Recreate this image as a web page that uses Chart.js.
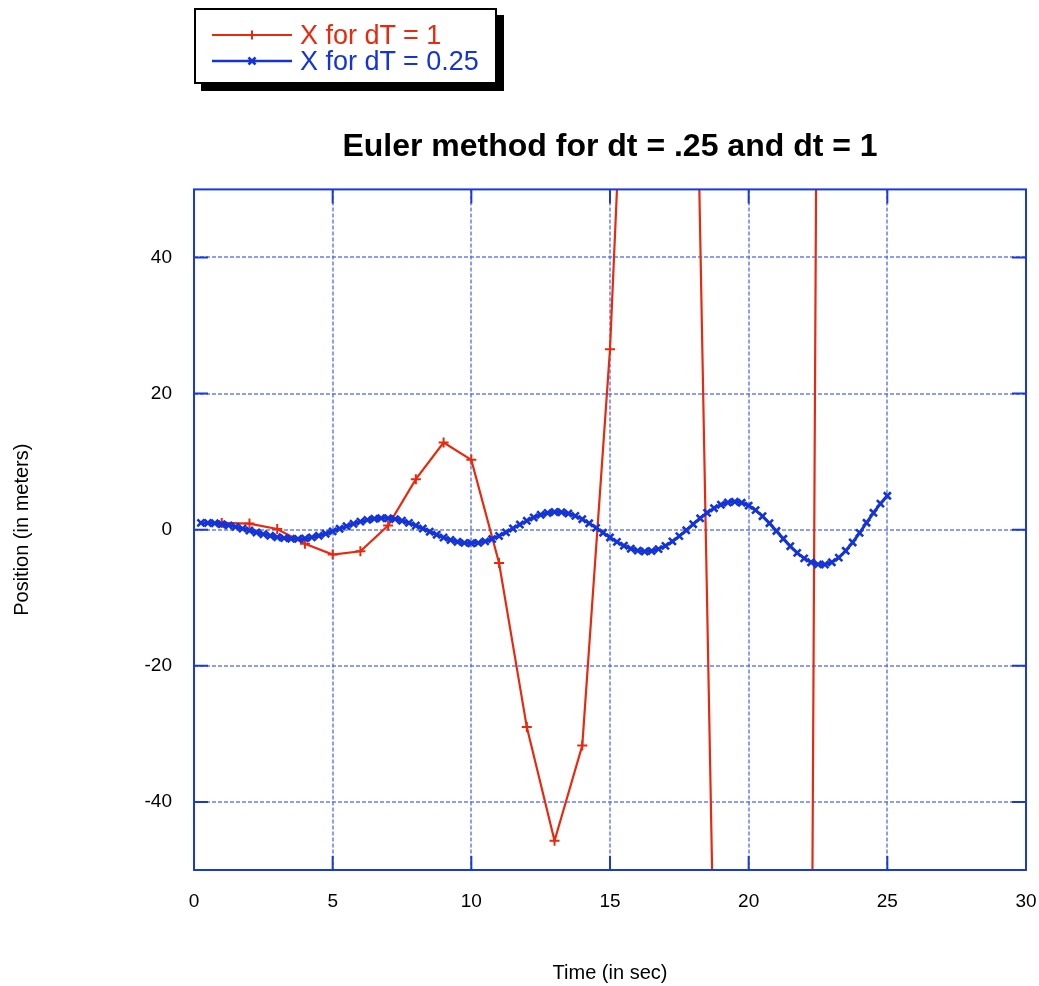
<!DOCTYPE html>
<html><head><meta charset="utf-8">
<script src="https://cdn.jsdelivr.net/npm/chart.js@4"></script>
<style>
html,body{margin:0;padding:0;background:#fff;}
#wrap{position:relative;width:1039px;height:986px;}
canvas{display:block;}
#legend{position:absolute;left:194px;top:8px;width:299px;height:72px;border:2px solid #000;background:#fff;box-shadow:7px 7px 0 #000;font-family:"Liberation Sans",Arial,Helvetica,sans-serif;font-size:27px;line-height:1;}
.row{position:absolute;left:0;height:28px;display:flex;align-items:center;white-space:nowrap;}
.row svg{margin-left:16px;margin-right:8px;}
</style></head>
<body>
<div id="wrap">
<canvas id="c" width="1039" height="986"></canvas>
<div id="legend">
 <div class="row" style="top:11px;color:#e8290e"><svg width="80" height="12"><line x1="0" y1="6" x2="80" y2="6" stroke="#e8290e" stroke-width="2.2"/><line x1="40" y1="1.5" x2="40" y2="10.5" stroke="#e8290e" stroke-width="2"/></svg><span id="l1"></span></div>
 <div class="row" style="top:37px;color:#1434d8"><svg width="80" height="12"><line x1="0" y1="6" x2="80" y2="6" stroke="#1434d8" stroke-width="2.5"/><path d="M36.5 2.5 L43.5 9.5 M43.5 2.5 L36.5 9.5" stroke="#1434d8" stroke-width="2.5"/></svg><span id="l2"></span></div>
</div>
</div>
<script>
const chartTitle = 'Euler method for dt = .25 and dt = 1';
const xAxisTitle = 'Time (in sec)';
const yAxisTitle = 'Position (in meters)';
const seriesNames = ['X for dT = 1', 'X for dT = 0.25'];
const xTicks = [0, 5, 10, 15, 20, 25, 30];
const yTicks = [-40, -20, 0, 20, 40];

const timeDt1 = [1,2,3,4,5,6,7,8,9,10,11,12,13,14,15,16,17,18,19,20,21,22,23,24,25];
const xDt1 = [1.0,0.9,0.1,-2.05,-3.66,-3.17,0.6,7.42,12.8,10.26,-4.9,-29.0,-45.7,-31.7,26.5,120,170,98,-119,-420,-560,-281,489,1500,2000];

const timeDt025 = [0.25,0.5,0.75,1,1.25,1.5,1.75,2,2.25,2.5,2.75,3,3.25,3.5,3.75,4,4.25,4.5,4.75,5,
 5.25,5.5,5.75,6,6.25,6.5,6.75,7,7.25,7.5,7.75,8,8.25,8.5,8.75,9,9.25,9.5,9.75,10,
 10.25,10.5,10.75,11,11.25,11.5,11.75,12,12.25,12.5,12.75,13,13.25,13.5,13.75,14,14.25,14.5,14.75,15,
 15.25,15.5,15.75,16,16.25,16.5,16.75,17,17.25,17.5,17.75,18,18.25,18.5,18.75,19,19.25,19.5,19.75,20,
 20.25,20.5,20.75,21,21.25,21.5,21.75,22,22.25,22.5,22.75,23,23.25,23.5,23.75,24,24.25,24.5,24.75,25];
const xDt025 = [1.00,0.99,0.94,0.81,0.64,0.41,0.16,-0.12,-0.40,-0.66,-0.90,-1.10,-1.24,-1.33,-1.35,-1.28,-1.13,-0.89,-0.59,-0.24,
 0.14,0.51,0.87,1.18,1.44,1.61,1.69,1.68,1.56,1.32,1.00,0.61,0.17,-0.29,-0.74,-1.15,-1.51,-1.78,-1.94,-2.00,
 -1.93,-1.71,-1.37,-0.92,-0.39,0.18,0.76,1.31,1.80,2.19,2.46,2.59,2.57,2.38,2.03,1.54,0.94,0.27,-0.44,-1.14,
 -1.79,-2.35,-2.79,-3.08,-3.20,-3.13,-2.85,-2.37,-1.72,-0.95,-0.09,0.81,1.68,2.48,3.16,3.67,3.99,4.10,3.96,3.54,
 2.87,1.98,0.95,-0.18,-1.33,-2.43,-3.41,-4.21,-4.79,-5.10,-5.12,-4.79,-4.10,-3.10,-1.87,-0.46,1.02,2.48,3.83,4.98];

const FONT = '"Liberation Sans", Arial, Helvetica, sans-serif';
const RED = '#e8290e', BLUE = '#1434d8', GRID = 'rgba(80,105,235,0.65)', FRAME = '#1a3ad8';

document.getElementById('l1').textContent = seriesNames[0];
document.getElementById('l2').textContent = seriesNames[1];

const framePlugin = {
  id: 'frame',
  afterDatasetsDraw(chart) {
    const {ctx, chartArea: a, scales: {x, y}} = chart;
    ctx.save();
    ctx.strokeStyle = FRAME;
    ctx.lineWidth = 2;
    ctx.strokeRect(a.left, a.top, a.right - a.left, a.bottom - a.top);
    const L = 14;
    ctx.beginPath();
    x.ticks.forEach(t => {
      const px = x.getPixelForValue(t.value);
      ctx.moveTo(px, a.bottom); ctx.lineTo(px, a.bottom - L);
      ctx.moveTo(px, a.top); ctx.lineTo(px, a.top + L);
    });
    y.ticks.forEach(t => {
      const py = y.getPixelForValue(t.value);
      ctx.moveTo(a.left, py); ctx.lineTo(a.left + L, py);
      ctx.moveTo(a.right, py); ctx.lineTo(a.right - L, py);
    });
    ctx.stroke();
    ctx.restore();
  }
};

new Chart(document.getElementById('c'), {
  type: 'line',
  data: {
    datasets: [
      {
        label: seriesNames[0],
        data: timeDt1.map((t, i) => ({x: t, y: xDt1[i]})),
        borderColor: RED, backgroundColor: RED,
        borderWidth: 2.2, pointStyle: 'cross', pointRadius: 5, pointBorderWidth: 2,
        pointBorderColor: RED, tension: 0, fill: false, order: 2
      },
      {
        label: seriesNames[1],
        data: timeDt025.map((t, i) => ({x: t, y: xDt025[i]})),
        borderColor: BLUE, backgroundColor: BLUE,
        borderWidth: 3, pointStyle: 'crossRot', pointRadius: 5, pointBorderWidth: 2.6,
        pointBorderColor: BLUE, tension: 0, fill: false, order: 1
      }
    ]
  },
  options: {
    responsive: false, animation: false, devicePixelRatio: 1,
    layout: {padding: {left: 0, right: 13, top: 0, bottom: 0}},
    plugins: {
      legend: {display: false},
      tooltip: {enabled: false},
      title: {
        display: true, text: chartTitle, fullSize: false, color: '#000',
        font: {family: FONT, size: 32, weight: 'bold'},
        padding: {top: 128, bottom: 23}
      }
    },
    scales: {
      x: {
        type: 'linear', min: 0, max: 30,
        afterBuildTicks: s => { s.ticks = xTicks.map(v => ({value: v})); },
        afterFit: s => { s.height = 116; s.paddingLeft = 0; s.paddingRight = 0; },
        grid: {color: GRID, lineWidth: 2, drawTicks: false},
        border: {display: false, dash: [4, 2]},
        ticks: {color: '#000', font: {family: FONT, size: 19}, padding: 20, maxRotation: 0, autoSkip: false},
        title: {display: true, text: xAxisTitle, color: '#000', font: {family: FONT, size: 20}, padding: {top: 0, bottom: 1}}
      },
      y: {
        type: 'linear', min: -50, max: 50,
        afterBuildTicks: s => { s.ticks = yTicks.map(v => ({value: v})); },
        afterFit: s => { s.width = 194; s.paddingTop = 0; s.paddingBottom = 0; },
        grid: {color: GRID, lineWidth: 2, drawTicks: false},
        border: {display: false, dash: [4, 2]},
        ticks: {color: '#000', font: {family: FONT, size: 19}, padding: 22, autoSkip: false},
        title: {display: true, text: yAxisTitle, color: '#000', font: {family: FONT, size: 20}, padding: {top: 10, bottom: 0}}
      }
    }
  },
  plugins: [framePlugin]
});
</script>
</body></html>
